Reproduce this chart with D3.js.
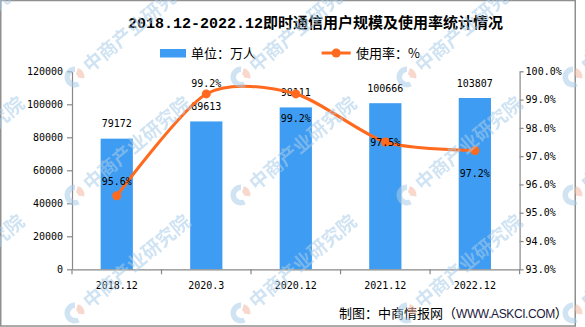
<!DOCTYPE html>
<html>
<head>
<meta charset="utf-8">
<script src="https://cdn.jsdelivr.net/npm/d3@7"></script>
<style>
  html, body { margin: 0; padding: 0; background: #fff; }
  svg { display: block; }
</style>
</head>
<body>
<svg id="chart" width="585" height="327"></svg>
<script>
// Instant-messaging users (10k people) and usage rate (%), Dec 2018 – Dec 2022
const categories = ["2018.12", "2020.3", "2020.12", "2021.12", "2022.12"];
const users = [79172, 89613, 98111, 100666, 103807];
const usageRate = [95.6, 99.2, 99.2, 97.5, 97.2];
const userTicks = [0, 20000, 40000, 60000, 80000, 100000, 120000];
const rateTicks = [93, 94, 95, 96, 97, 98, 99, 100];

// baseline offset of each rate label relative to its point
const rateLabelDy = [-11, -7, 28, 4, 26.5];

const BAR = "#3e9cf2";
const LINE = "#ff6a1f";
const AXIS = "#888";
const MONO = "'DejaVu Sans Mono', monospace";
const CJK = "'Noto Sans CJK SC', sans-serif";

const svg = d3.select("#chart");

const plot = { left: 72, right: 519.6, top: 71.3, bottom: 269.3 };

const x = d3.scaleBand().domain(categories).range([plot.left, plot.right]);
const yUsers = d3.scaleLinear().domain([0, 120000]).range([plot.bottom, plot.top]);
const yRate = d3.scaleLinear().domain([93, 100]).range([plot.bottom, plot.top]);
const barW = x.bandwidth() * 0.36;

// frame
svg.append("rect")
  .attr("x", 0.75).attr("y", 0.5).attr("width", 574.5).attr("height", 325.5)
  .attr("fill", "none").attr("stroke", "#8f8f8f").attr("stroke-width", 1.5);

// title
svg.append("text")
  .attr("x", 128).attr("y", 28)
  .attr("font-family", "'Liberation Mono', " + CJK)
  .attr("font-size", 15).attr("font-weight", "bold").attr("fill", "#000")
  .text("2018.12-2022.12即时通信用户规模及使用率统计情况");

// legend
const legend = svg.append("g");
legend.append("rect").attr("x", 160).attr("y", 49).attr("width", 26).attr("height", 8.5).attr("fill", BAR);
legend.append("text").attr("x", 191).attr("y", 57.5)
  .attr("font-family", CJK).attr("font-size", 13).attr("fill", "#000").text("单位：万人");
legend.append("line").attr("x1", 321.6).attr("x2", 350.7).attr("y1", 53).attr("y2", 53)
  .attr("stroke", LINE).attr("stroke-width", 3);
legend.append("circle").attr("cx", 336.2).attr("cy", 53).attr("r", 4.5).attr("fill", LINE);
legend.append("text").attr("x", 356).attr("y", 57.5)
  .attr("font-family", CJK).attr("font-size", 13).attr("fill", "#000").text("使用率：%");

// bars
svg.append("g").selectAll("rect").data(categories).join("rect")
  .attr("x", (c) => x(c) + (x.bandwidth() - barW) / 2)
  .attr("width", barW)
  .attr("y", (c, i) => yUsers(users[i]))
  .attr("height", (c, i) => plot.bottom - yUsers(users[i]))
  .attr("fill", BAR);

// axes
function styleAxis(g) {
  g.selectAll(".domain").attr("stroke", AXIS).attr("stroke-width", 1.2);
  g.selectAll(".tick line").attr("stroke", AXIS).attr("stroke-width", 1.2);
  g.selectAll(".tick text").attr("font-family", MONO).attr("font-size", 10).attr("fill", "#000");
}

svg.append("g").attr("transform", `translate(${plot.left},0)`)
  .call(d3.axisLeft(yUsers).tickValues(userTicks).tickFormat(d3.format("d"))
    .tickSize(5).tickSizeOuter(0).tickPadding(4))
  .call(styleAxis);

svg.append("g").attr("transform", `translate(${plot.right},0)`)
  .call(d3.axisRight(yRate).tickValues(rateTicks).tickFormat((d) => d3.format(".1f")(d) + "%")
    .tickSize(4).tickSizeOuter(0).tickPadding(2))
  .call(styleAxis);

const xAxis = svg.append("g").attr("transform", `translate(0,${plot.bottom})`)
  .call(d3.axisBottom(x).tickSize(0).tickSizeOuter(0).tickPadding(12.6))
  .call(styleAxis);
// category boundary ticks
const bounds = categories.map((c) => x(c)).concat([x(categories[categories.length - 1]) + x.bandwidth()]);
xAxis.selectAll(".bound").data(bounds).join("line")
  .attr("x1", (d) => d).attr("x2", (d) => d).attr("y1", 0).attr("y2", 5)
  .attr("stroke", AXIS).attr("stroke-width", 1.2);

// bar value labels
svg.append("g").selectAll("text").data(categories).join("text")
  .attr("x", (c) => x(c) + x.bandwidth() / 2)
  .attr("y", (c, i) => yUsers(users[i]) - 11.3)
  .attr("text-anchor", "middle")
  .attr("font-family", MONO).attr("font-size", 10).attr("fill", "#000")
  .text((c, i) => users[i]);

// usage-rate line
const pts = categories.map((c, i) => [x(c) + x.bandwidth() / 2, yRate(usageRate[i])]);
svg.append("path")
  .attr("d", d3.line().curve(d3.curveCardinal.tension(0.2))(pts))
  .attr("fill", "none").attr("stroke", LINE).attr("stroke-width", 3);
svg.append("g").selectAll("circle").data(pts).join("circle")
  .attr("cx", (d) => d[0]).attr("cy", (d) => d[1]).attr("r", 4.5).attr("fill", LINE);

svg.append("g").selectAll("text").data(pts).join("text")
  .attr("x", (d) => d[0])
  .attr("y", (d, i) => d[1] + rateLabelDy[i])
  .attr("text-anchor", "middle")
  .attr("font-family", MONO).attr("font-size", 10).attr("fill", "#000")
  .text((d, i) => d3.format(".1f")(usageRate[i]) + "%");

// source note
const src = svg.append("text").attr("x", 339).attr("y", 317.5)
  .attr("font-family", CJK).attr("font-size", 13).attr("fill", "#000");
src.append("tspan").text("制图：中商情报网（");
src.append("tspan").attr("font-family", "'Liberation Sans', sans-serif").attr("font-size", 12)
  .attr("letter-spacing", -0.4).attr("fill", "#1a1a3a").text("WWW.ASKCI.COM");
src.append("tspan").text("）");

// publisher watermark tiled over the chart
const wmCols = [-91, 75, 241, 407, 573];
const wmRows = [77, 195, 313];
const wm = svg.append("g").attr("opacity", 0.55).attr("pointer-events", "none");
const ringArc = d3.arc().innerRadius(5).outerRadius(10.5);
const wedgeArc = d3.arc().innerRadius(3).outerRadius(9.5);
wmRows.forEach((ry) => wmCols.forEach((cx) => {
  const g = wm.append("g").attr("transform", `translate(${cx},${ry})`);
  g.append("path").attr("d", ringArc({ startAngle: Math.PI * 0.85, endAngle: Math.PI * 2.0 })).attr("fill", "#a9cce8");
  g.append("path").attr("d", wedgeArc({ startAngle: Math.PI * 0.1, endAngle: Math.PI * 0.55 })).attr("fill", "#f2b9a3");
  g.append("text").attr("transform", "rotate(-40)")
    .attr("x", 14).attr("y", 7)
    .attr("font-family", CJK).attr("font-size", 19).attr("font-weight", "bold")
    .attr("fill", "#a9cce8").text("中商产业研究院");
}));
</script>
</body>
</html>
